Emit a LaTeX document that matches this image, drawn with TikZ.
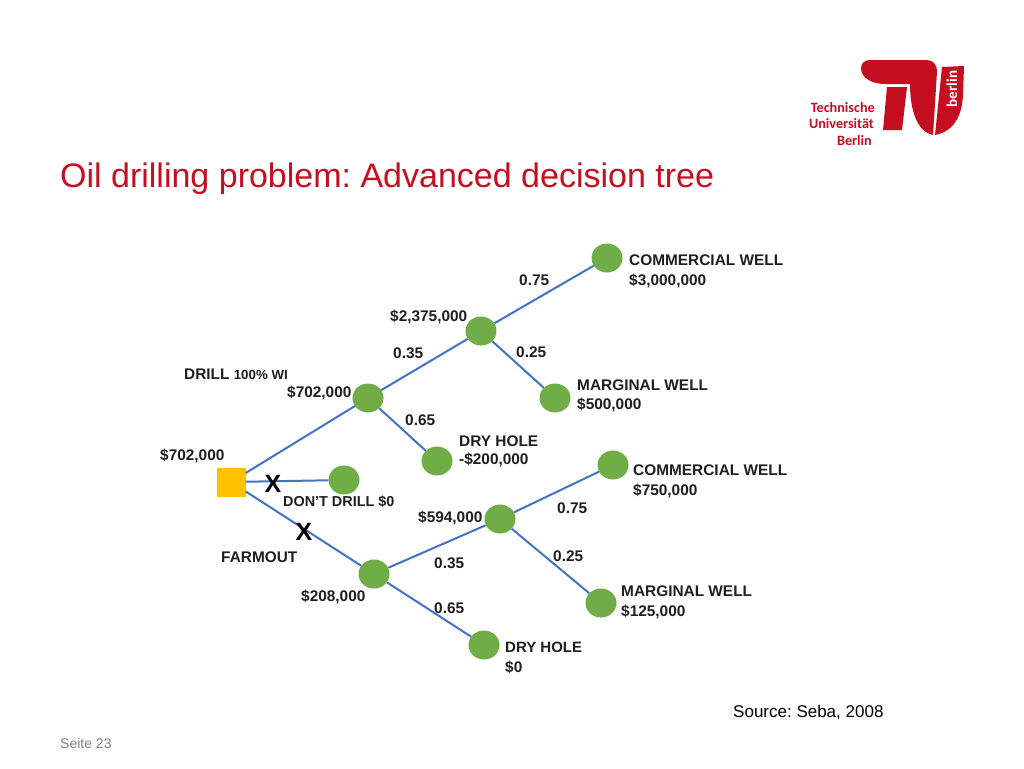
\documentclass[tikz,border=0pt]{standalone}
\usepackage{fontspec}
\usetikzlibrary{shapes.geometric}
\setmainfont{Liberation Sans}
\newfontfamily\logofont{Carlito}
\definecolor{tured}{HTML}{C50E1F}
\definecolor{edgeblue}{HTML}{4472C4}
\definecolor{nodegreen}{HTML}{70AD47}
\definecolor{boxgold}{HTML}{FFC000}
\definecolor{lab}{HTML}{1F1F1F}
\tikzset{x=1pt,y=-1pt,
  chance/.style={ellipse,fill=nodegreen,minimum width=31pt,minimum height=29pt,inner sep=0pt},
  decision/.style={rectangle,fill=boxgold,minimum size=29pt,inner sep=0pt},
  edge/.style={draw=edgeblue,line width=2pt},
  lbl/.style={font=\fontsize{15.4}{17}\selectfont\bfseries,text=lab,inner sep=0pt,anchor=west},
  xmark/.style={font=\fontsize{25}{27}\selectfont\bfseries,text=black,inner sep=0pt},
  logotext/.style={font=\logofont\fontsize{14.2}{16}\selectfont\bfseries,text=tured,inner sep=0pt}}
\frenchspacing
\begin{document}
\begin{tikzpicture}
\useasboundingbox (0,0) rectangle (1024,768);
\fill[white] (0,0) rectangle (1024,768);
% logo
\fill[tured] (870,60) -- (926,60) .. controls (933,60) and (937,64) .. (937,72)
  -- (933,135) .. controls (918,132) and (910,112) .. (910,84)
  -- (885,84) .. controls (872,84) and (861,78) .. (861,68) .. controls (861,63) and (865,60) .. (870,60) -- cycle;
\fill[tured] (887,87) -- (907,87) -- (902,130) -- (883,130) -- cycle;
\fill[tured] (942,67) -- (964,66) -- (963,95) .. controls (962,118) and (952,132) .. (935,135) -- cycle;
\node[font=\logofont\fontsize{15}{17}\selectfont\bfseries,text=white,rotate=90,inner sep=0pt] (logoside) at (952,89) {berlin};
\node[logotext,anchor=east] (logoa) at (875,108) {Technische};
\node[logotext,anchor=east] (logob) at (874,124) {Universität};
\node[logotext,anchor=east] (logoc) at (872,141) {Berlin};
% title
\node[font=\fontsize{34}{38}\selectfont,text=tured,anchor=west,inner sep=0pt] (title) at (60,179) {Oil drilling problem: Advanced decision tree};
% tree nodes
\node[decision] (root) at (231,482) {};
\node[chance] (drill) at (368,398) {};
\node[chance] (nodrill) at (344,480) {};
\node[chance] (farm) at (374,574) {};
\node[chance] (d1) at (481,331) {};
\node[chance] (dry1) at (437,461) {};
\node[chance] (cw1) at (607,258) {};
\node[chance] (mw1) at (555,398) {};
\node[chance] (f1) at (500,519) {};
\node[chance] (dry2) at (484,645) {};
\node[chance] (cw2) at (613,465) {};
\node[chance] (mw2) at (601,603) {};
% edges
\draw[edge] (root) -- (drill);
\draw[edge] (root) -- (nodrill);
\draw[edge] (root) -- (farm);
\draw[edge] (drill) -- (d1);
\draw[edge] (drill) -- (dry1);
\draw[edge] (d1) -- (cw1);
\draw[edge] (d1) -- (mw1);
\draw[edge] (farm) -- (f1);
\draw[edge] (farm) -- (dry2);
\draw[edge] (f1) -- (cw2);
\draw[edge] (f1) -- (mw2);
% labels
\node[lbl] (t1) at (629,260) {COMMERCIAL WELL};
\node[lbl] (t2) at (629,281) {\$3,000,000};
\node[lbl] (t3) at (519,280) {0.75};
\node[lbl] (t4) at (390,317) {\$2,375,000};
\node[lbl] (t5) at (516,352) {0.25};
\node[lbl] (t6) at (393,353) {0.35};
\node[lbl] (t7) at (577,385) {MARGINAL WELL};
\node[lbl] (t8) at (577,405) {\$500,000};
\node[lbl] (t9) at (184,374) {DRILL \fontsize{13.3}{15}\selectfont 100\% WI};
\node[lbl] (t10) at (287,393) {\$702,000};
\node[lbl] (t11) at (405,420) {0.65};
\node[lbl] (t12) at (459,441) {DRY HOLE};
\node[lbl] (t13) at (459,460) {-\$200,000};
\node[lbl] (t14) at (160,456) {\$702,000};
\node[lbl] (t15) at (633,470) {COMMERCIAL WELL};
\node[lbl] (t16) at (633,491) {\$750,000};
\node[xmark] (xa) at (273,484) {X};
\node[xmark] (xb) at (304,532) {X};
\node[lbl,font=\fontsize{14.4}{17}\selectfont\bfseries] (t17) at (283,502) {DON’T DRILL \$0};
\node[lbl] (t18) at (418,518) {\$594,000};
\node[lbl] (t19) at (557,508) {0.75};
\node[lbl] (t20) at (553,556) {0.25};
\node[lbl] (t21) at (221,557) {FARMOUT};
\node[lbl] (t22) at (434,563) {0.35};
\node[lbl] (t23) at (301,597) {\$208,000};
\node[lbl] (t24) at (621,591) {MARGINAL WELL};
\node[lbl] (t25) at (621,612) {\$125,000};
\node[lbl] (t26) at (434,608) {0.65};
\node[lbl,font=\fontsize{15}{17}\selectfont\bfseries] (t27) at (505,647) {DRY HOLE};
\node[lbl] (t28) at (505,667) {\$0};
\node[font=\fontsize{17}{19}\selectfont,text=black,anchor=west,inner sep=0pt] (src) at (733,712) {Source: Seba, 2008};
\node[font=\fontsize{14}{16}\selectfont,text=gray,anchor=west,inner sep=0pt] (page) at (60,743) {Seite 23};
\end{tikzpicture}
\end{document}
